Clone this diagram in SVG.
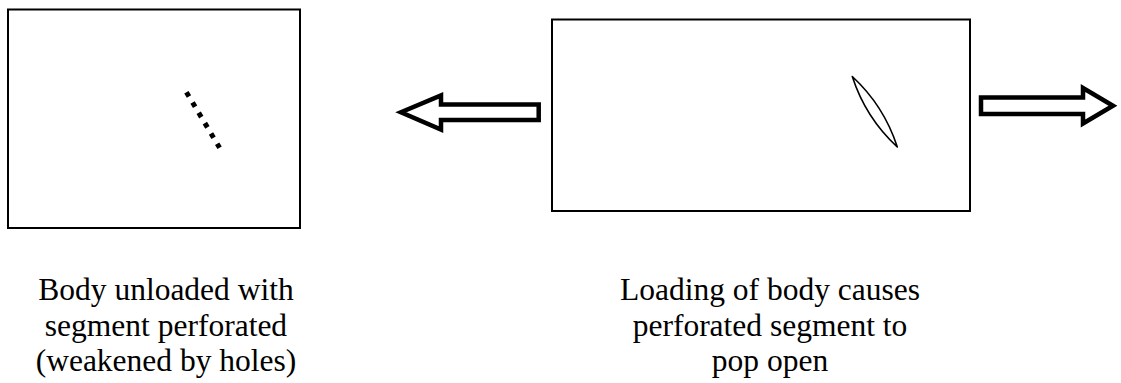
<svg xmlns="http://www.w3.org/2000/svg" width="1121" height="383" viewBox="0 0 1121 383">
  <style>
    .body { fill: #fff; stroke: #000; stroke-width: 2; }
    .force { fill: #fff; stroke: #000; stroke-width: 4.5; stroke-linejoin: miter; stroke-miterlimit: 10; }
    .caption { font-family: "Liberation Serif", "Times New Roman", serif; font-size: 31.5px; fill: #000; text-anchor: middle; }
  </style>
  <rect width="1121" height="383" fill="#fff"/>

  <!-- unloaded body with a row of perforation holes -->
  <g id="unloaded-body">
    <rect class="body" x="8" y="9.5" width="292" height="218.5"/>
    <line x1="186.4" y1="92.2" x2="219.6" y2="147.8" stroke="#000" stroke-width="5" stroke-dasharray="5 7"/>
  </g>

  <!-- loaded body: the perforated segment has opened into a slit -->
  <g id="loaded-body">
    <rect class="body" x="552" y="19.5" width="418" height="191.5"/>
    <path d="M852.3,76.5 Q884,105.8 897.3,147 Q865.5,117.6 852.3,76.5 Z" fill="none" stroke="#000" stroke-width="1.6" stroke-linejoin="round"/>
  </g>

  <!-- applied loads -->
  <g id="connectors">
    <path class="force" d="M538.7,104.5 L441,104.5 L441,95.5 L401,112.3 L441,129.5 L441,120 L538.7,120 Z"/>
    <path class="force" d="M981,97.5 L1083,97.5 L1083,88 L1113,105.7 L1083,123.5 L1083,114 L981,114 Z"/>
  </g>

  <g id="caption-unloaded">
    <text class="caption" x="166" y="300">Body unloaded with</text>
    <text class="caption" x="166" y="335.5">segment perforated</text>
    <text class="caption" x="166" y="371">(weakened by holes)</text>
  </g>

  <g id="caption-loaded">
    <text class="caption" x="770" y="300">Loading of body causes</text>
    <text class="caption" x="770" y="335.5">perforated segment to</text>
    <text class="caption" x="770" y="371">pop open</text>
  </g>
</svg>
